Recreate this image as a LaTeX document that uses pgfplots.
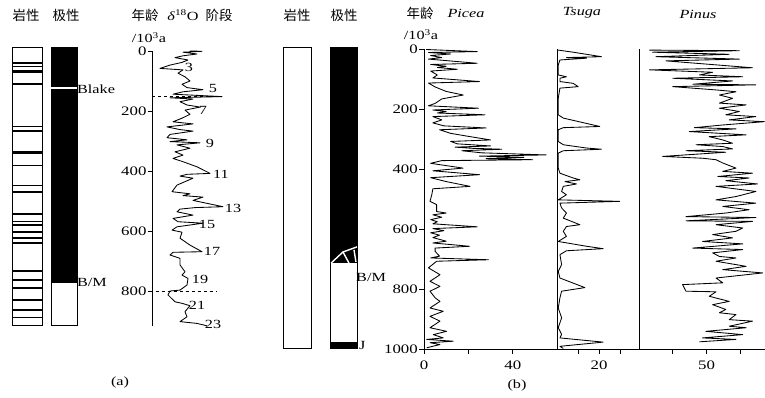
\documentclass[border=0pt]{standalone}
\usepackage{fontspec}
\setmainfont{Liberation Serif}[FakeStretch=1.3]
\newfontfamily\cjk{Noto Sans CJK SC}
\usepackage{pgfplots}
\pgfplotsset{compat=1.18}
\pgfplotsset{
  pan/.style={scale only axis, anchor=north west, y dir=reverse, enlargelimits=false,
    axis line style={line width=0.8bp,-}, tick style={line width=0.7bp,black},
    major tick length=5bp, tick align=outside,
    tick label style={font=\fontsize{13}{15}\selectfont, inner sep=1bp},
    /pgf/number format/1000 sep={},
    /pgf/number format/assume math mode=true, clip=false},
  col/.style={pan, xmin=0, xmax=1, xtick=\empty, ytick=\empty, axis line style={line width=0.9bp}},
  crv/.style={black, line width=0.85bp, line join=round, no marks},
}
\begin{document}
\begin{tikzpicture}[x=1bp,y=1bp, every node/.style={font=\fontsize{12.5}{14}\selectfont, inner sep=0pt}]
\path[use as bounding box] (0,0) rectangle (765bp,398bp);

% ---- lithology A
\begin{axis}[col, at={(12bp,351bp)}, width=30bp, height=278bp, ymin=-13.3, ymax=913.3]
\addplot[xcomb, line width=1.2bp, black, no marks] coordinates {
(1,40)(1,53)(1,67)(1,73)(1,110)(1,253)(1,267)(1,337)(1,343)(1,383)(1,447)(1,470)
(1,543)(1,567)(1,580)(1,603)(1,623)(1,640)(1,733)(1,763)(1,790)(1,830)(1,863)(1,887)};
\end{axis}
% ---- polarity A
\begin{axis}[col, at={(51bp,351bp)}, width=26bp, height=278bp, ymin=-13.3, ymax=913.3]
\addplot[fill=black, draw=none] coordinates {(0,-13.3)(1,-13.3)(1,773)(0,773)} -- cycle;
\addplot[fill=white, draw=none] coordinates {(0,120)(1,120)(1,128)(0,128)} -- cycle;
\end{axis}
% ---- delta18O
\begin{axis}[pan, at={(152.7bp,347bp)}, width=92.3bp, height=275.1bp, xmin=2.7, xmax=95, ymin=0, ymax=917,
  axis x line=none, axis y line*=left, ytick={0,200,400,600,800}]
\addplot[crv] coordinates {
(40,0)(52,1)(33,4)(47,10)(33,16)(25,22)(38,30)(32,38)(20,47)(10,58)(33,63)(28,74)(35,86)(40,100)
(32,111)(37,122)(53,129)(33,136)(23,144)(72,152)(20,156)(43,160)(30,169)(37,180)(50,187)(35,197)
(40,211)(32,224)(23,236)(43,243)(17,253)(30,262)(43,267)(20,278)(17,289)(37,296)(20,302)(50,306)
(27,313)(40,324)(25,336)(33,347)(23,358)(33,369)(47,386)(60,408)(37,411)(30,417)(43,424)(27,447)
(22,469)(40,476)(33,482)(53,487)(43,498)(73,519)(45,522)(30,527)(27,536)(43,547)(23,558)(28,569)
(53,574)(27,586)(22,597)(32,604)(30,624)(40,647)(52,669)(23,671)(20,680)(30,691)(30,713)(35,736)
(32,747)(38,758)(37,780)(30,797)(20,800)(18,813)(25,836)(32,841)(40,849)(35,869)(37,886)(30,902)
(47,908)(57,916)};
\addplot[black, dashed, line width=0.6bp] coordinates {(2,150)(72,150)};
\addplot[black, dashed, line width=0.6bp] coordinates {(0,800)(67,800)};
\node at (axis cs:39,56) {3};
\node at (axis cs:63,124) {5};
\node at (axis cs:53,197) {7};
\node at (axis cs:60,308) {9};
\node at (axis cs:71,411) {11};
\node at (axis cs:83,524) {13};
\node at (axis cs:57,578) {15};
\node at (axis cs:62,669) {17};
\node at (axis cs:50,763) {19};
\node at (axis cs:47,847) {21};
\node at (axis cs:63,913) {23};
\end{axis}
% ---- lithology B
\begin{axis}[col, at={(283bp,351bp)}, width=28bp, height=301bp, ymin=-8.3, ymax=995]
\end{axis}
% ---- polarity B
\begin{axis}[col, at={(330bp,351bp)}, width=27bp, height=301bp, ymin=-8.3, ymax=995]
\addplot[fill=black, draw=none] coordinates {(0,-8.3)(1,-8.3)(1,712)(0,712)} -- cycle;
\addplot[fill=black, draw=none] coordinates {(0,975)(1,975)(1,995)(0,995)} -- cycle;
\addplot[white, line width=1.4bp] coordinates {(0.04,712)(0.48,675)(1,658)};
\addplot[white, line width=1.4bp] coordinates {(0.48,675)(0.74,718)};
\addplot[white, line width=1.4bp] coordinates {(0.89,668)(0.96,708)};
\end{axis}
% ---- Picea
\begin{axis}[pan, at={(424bp,348.5bp)}, width=133.2bp, height=299.5bp, xmin=0, xmax=60, ymin=0, ymax=1000,
  axis x line*=bottom, axis y line*=left, ytick={0,200,400,600,800,1000}, xtick={0,20,40}, xticklabels={0,,40},
  xticklabel style={yshift=-6bp}]
\addplot[crv] coordinates {
(1,0)(24,7)(2,10)(12,15)(3,20)(8,27)(2,32)(24,46)(3,50)(10,56)(6,60)(15,66)(3,72)(6,85)(4,95)(25,107)
(2,112)(5,125)(10,140)(17.7,152)(8,165)(5,180)(2,188)(24.5,196)(4,202)(10,207)(6,212)(27.5,218)(4,224)
(8,235)(4,245)(9,255)(28,262)(7,268)(12,280)(20,290)(30,302)(12,307)(15,315)(30,322)(14,326)(22,330)
(35,333)(17,338)(26,345)(55,352)(25,356)(45,360)(28,364)(49,368)(8,371)(3,380)(17.6,396)(4,405)(25,418)
(3,428)(10,441)(20.7,457)(4,465)(3.5,485)(2.7,507)(5.7,518)(5.7,541)(10,546)(4,552)(8,560)(3,568)(6,575)
(4,582)(24,592)(4,598)(9,605)(3,612)(7,620)(4,628)(10,640)(4,646)(20.5,657)(5,663)(5,674)(7,690)(3,696)
(29,702)(5.7,707)(2,729)(7.2,752)(2.7,774)(7.2,791)(2.7,807)(5,829)(7.2,841)(2.7,863)(8.7,874)(2.7,891)
(7.2,907)(2.7,929)(10.2,941)(4.2,952)(8.7,963)(1.2,968)(13.2,974)(2.7,979)(7.2,985)(1.2,996)};
\end{axis}
% ---- Tsuga
\begin{axis}[pan, at={(557.2bp,348.5bp)}, width=81.8bp, height=299.5bp, xmin=0, xmax=39, ymin=0, ymax=1000,
  axis x line*=bottom, axis y line*=left, ytick=\empty, xtick={10,20,30}, xticklabels={,20,},
  xticklabel style={yshift=-6bp}]
\addplot[crv] coordinates {
(0.5,2)(7.6,9)(21.1,24)(4.4,27)(14,29)(1.3,35)(0.5,52)(0.5,85)(4.4,91)(1.3,96)(1.3,107)(7.6,113)(10,124)
(1.3,129)(0.5,163)(0.5,218)(2.9,229)(20.3,257)(2.9,261)(0.5,268)(0.5,307)(2.9,318)(14,329)(21.1,333)
(2.9,338)(0.5,346)(0.5,396)(1.3,413)(7.6,429)(10.8,435)(3.7,441)(9.2,449)(2.9,457)(2.1,474)(4.4,485)
(0.5,502)(29.8,507)(1.3,513)(2.1,529)(4.4,546)(2.9,563)(10.8,585)(4.4,591)(2.9,607)(4.4,624)(0.5,641)
(14,657)(21.9,665)(4.4,672)(1.3,685)(2.1,718)(0.5,741)(1.3,763)(13.2,795)(2.1,807)(1.3,829)(0.5,863)
(2.1,896)(0.5,929)(2.1,951)(1.3,963)(21.9,977)(1.3,991)(2.9,998)};
\end{axis}
% ---- Pinus
\begin{axis}[pan, at={(639bp,348.5bp)}, width=126bp, height=299.5bp, xmin=30, xmax=67.3, ymin=0, ymax=1000,
  axis x line*=bottom, axis y line*=left, ytick=\empty, xtick={40,50,60}, xticklabels={,50,},
  xticklabel style={yshift=-6bp}]
\addplot[crv] coordinates {
(33.1,2)(59.7,4)(34,9)(56.7,16)(35,24)(59.7,32)(38,38)(63.6,61)(33.1,68)(51.8,76)(47.9,85)(60.7,91)
(40,96)(57.7,105)(45.9,116)(64.6,118)(40,124)(52.8,135)(58.7,141)(53.8,152)(57.7,163)(53.8,179)
(61.7,185)(53.8,196)(59.7,207)(55.7,218)(64.6,224)(56.7,235)(67.1,241)(54.8,252)(46.4,261)(58.7,265)
(44.9,274)(61.7,285)(50.8,291)(54.8,302)(57.7,313)(46.9,318)(54.8,324)(57.7,332)(43.9,338)(55.7,343)
(37,357)(48.8,363)(52.8,368)(54.8,379)(58.7,396)(54.8,407)(63.6,413)(53.3,424)(62.6,429)(55.7,438)
(65.1,449)(52.8,457)(64.6,474)(58.7,491)(52.8,502)(64.6,513)(54.8,524)(62.6,535)(55.7,546)(43.9,558)
(64.6,561)(43.9,572)(63.6,574)(52.8,585)(60.7,596)(58.7,607)(51.8,618)(57.7,629)(48.8,641)(60.7,649)
(45.9,663)(60.7,668)(51.8,679)(53.8,691)(58.7,696)(52.8,707)(61.7,724)(54.8,735)(66.6,746)(52.8,763)
(54.8,779)(42.9,785)(43.9,807)(52.8,809)(50.8,824)(56.7,841)(51.8,852)(55.7,868)(53.8,879)(58.7,885)
(56.7,902)(63.6,907)(56.7,924)(61.7,929)(49.8,941)(60.7,952)(48.8,963)(58.7,968)(47.9,976)};
\end{axis}

% ---- texts
\node at (26bp,383bp) {\cjk\fontsize{13.5}{15}\selectfont 岩性};
\node at (66bp,383bp) {\cjk\fontsize{13.5}{15}\selectfont 极性};
\node at (145bp,383bp) {\cjk\fontsize{13.5}{15}\selectfont 年龄};
\node at (183bp,383bp) {{\itshape δ}\textsuperscript{18}O};
\node at (219bp,383bp) {\cjk\fontsize{13.5}{15}\selectfont 阶段};
\node at (149bp,360bp) {/10\textsuperscript{3}a};
\node at (297bp,383bp) {\cjk\fontsize{13.5}{15}\selectfont 岩性};
\node at (344bp,383bp) {\cjk\fontsize{13.5}{15}\selectfont 极性};
\node at (420bp,385bp) {\cjk\fontsize{13.5}{15}\selectfont 年龄};
\node at (421bp,363bp) {/10\textsuperscript{3}a};
\node at (466bp,385bp) {\itshape Picea};
\node at (582bp,385bp) {\itshape Tsuga};
\node at (698bp,384bp) {\itshape Pinus};
\node[anchor=west] at (77bp,309bp) {Blake};
\node[anchor=west] at (77bp,116bp) {B/M};
\node[anchor=west] at (356bp,121bp) {B/M};
\node[anchor=west] at (359bp,53bp) {J};
\node at (120bp,15bp) {(a)};
\node at (517bp,12bp) {(b)};
\end{tikzpicture}
\end{document}
